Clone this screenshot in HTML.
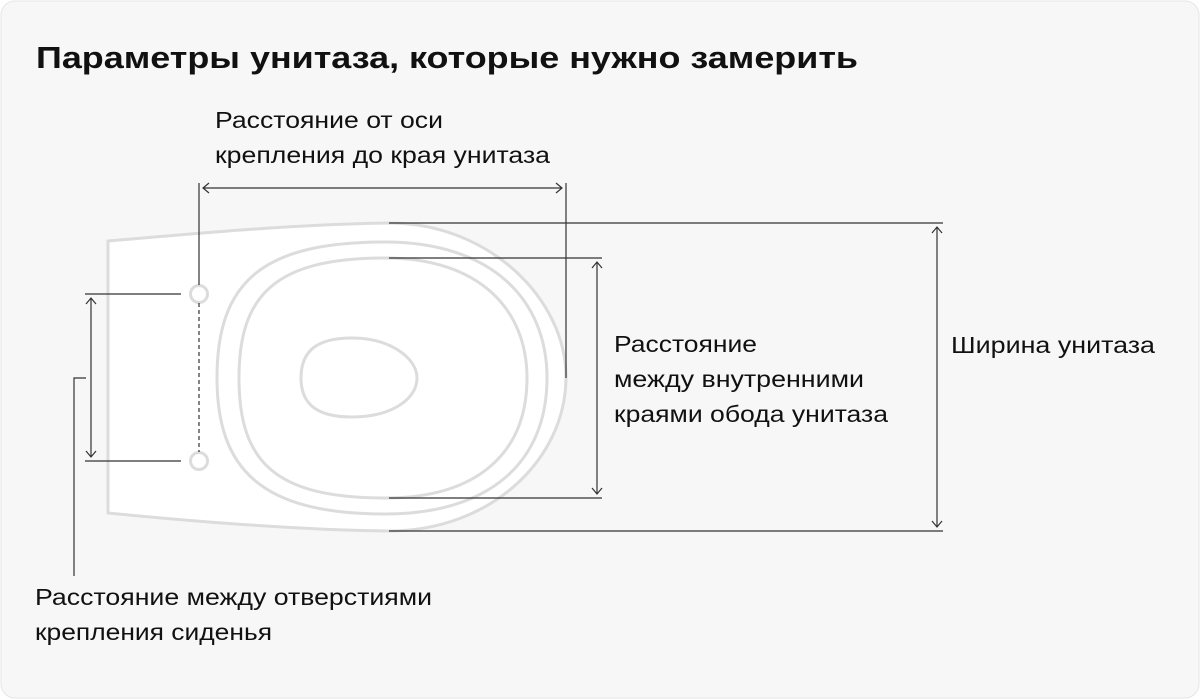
<!DOCTYPE html>
<html><head><meta charset="utf-8"><style>
html,body{margin:0;padding:0;background:#fff;}
svg{display:block;}
text{font-family:"Liberation Sans",sans-serif;fill:#111;}
</style></head><body>
<svg width="1200" height="699" viewBox="0 0 1200 699" xmlns="http://www.w3.org/2000/svg">
<rect x="1" y="1" width="1198" height="697" rx="14" fill="#f7f7f7" stroke="#e6e6e6" stroke-width="1"/>
<text x="36" y="68" font-size="31" font-weight="bold" textLength="822" lengthAdjust="spacingAndGlyphs">Параметры унитаза, которые нужно замерить</text>
<g font-size="23">
<text x="215" y="128" textLength="228" lengthAdjust="spacingAndGlyphs">Расстояние от оси</text>
<text x="215" y="163" textLength="335" lengthAdjust="spacingAndGlyphs">крепления до края унитаза</text>
<text x="614" y="352" textLength="143" lengthAdjust="spacingAndGlyphs">Расстояние</text>
<text x="614" y="387" textLength="250" lengthAdjust="spacingAndGlyphs">между внутренними</text>
<text x="614" y="422" textLength="274" lengthAdjust="spacingAndGlyphs">краями обода унитаза</text>
<text x="951" y="353" textLength="204" lengthAdjust="spacingAndGlyphs">Ширина унитаза</text>
<text x="35" y="605" textLength="397" lengthAdjust="spacingAndGlyphs">Расстояние между отверстиями</text>
<text x="35" y="640" textLength="237" lengthAdjust="spacingAndGlyphs">крепления сиденья</text>
</g>
<g fill="none" stroke="#dcdcdc" stroke-width="3">
<path d="M108,241 C200,233 300,224 389,223 C490,223 566,300 566,377 C566,460 490,531 389,531 C300,530 200,522 108,513 Z" fill="#fff"/>
<path d="M385,242 C492,242 547,300 547,378 C547,462 490,514 385,514 C262,514 217,470 217,378 C217,282 262,242 385,242 Z"/>
<path d="M385,258 C480,258 527,310 527,378 C527,455 475,498 385,498 C275,498 239,462 239,378 C239,295 275,258 385,258 Z"/>
<path d="M352,338 C390,338 417,358 417,378 C417,400 390,417 352,417 C318,417 301,405 301,378 C301,350 318,338 352,338 Z"/>
<circle cx="199" cy="294" r="8.5"/>
<circle cx="199" cy="461" r="8.5"/>
</g>
<g fill="none" stroke="#333" stroke-width="1.2">
<line x1="199" y1="183" x2="199" y2="285"/>
<line x1="199" y1="303" x2="199" y2="452" stroke-dasharray="4,3"/>
<line x1="566" y1="183" x2="566" y2="378"/>
<line x1="203" y1="188" x2="562" y2="188"/>
<path d="M209,183 L203,188 L209,193 M556,183 L562,188 L556,193"/>
<line x1="389" y1="223" x2="943" y2="223"/>
<line x1="389" y1="531" x2="943" y2="531"/>
<line x1="937" y1="227" x2="937" y2="527"/>
<path d="M932,233 L937,227 L942,233 M932,521 L937,527 L942,521"/>
<line x1="389" y1="258" x2="602" y2="258"/>
<line x1="389" y1="498" x2="602" y2="498"/>
<line x1="597" y1="262" x2="597" y2="494"/>
<path d="M592,268 L597,262 L602,268 M592,488 L597,494 L602,488"/>
<line x1="85" y1="294" x2="181" y2="294"/>
<line x1="85" y1="461" x2="181" y2="461"/>
<line x1="91" y1="298" x2="91" y2="457"/>
<path d="M86,304 L91,298 L96,304 M86,451 L91,457 L96,451"/>
<path d="M86,378 L74,378 L74,576"/>
</g>
</svg>
</body></html>
